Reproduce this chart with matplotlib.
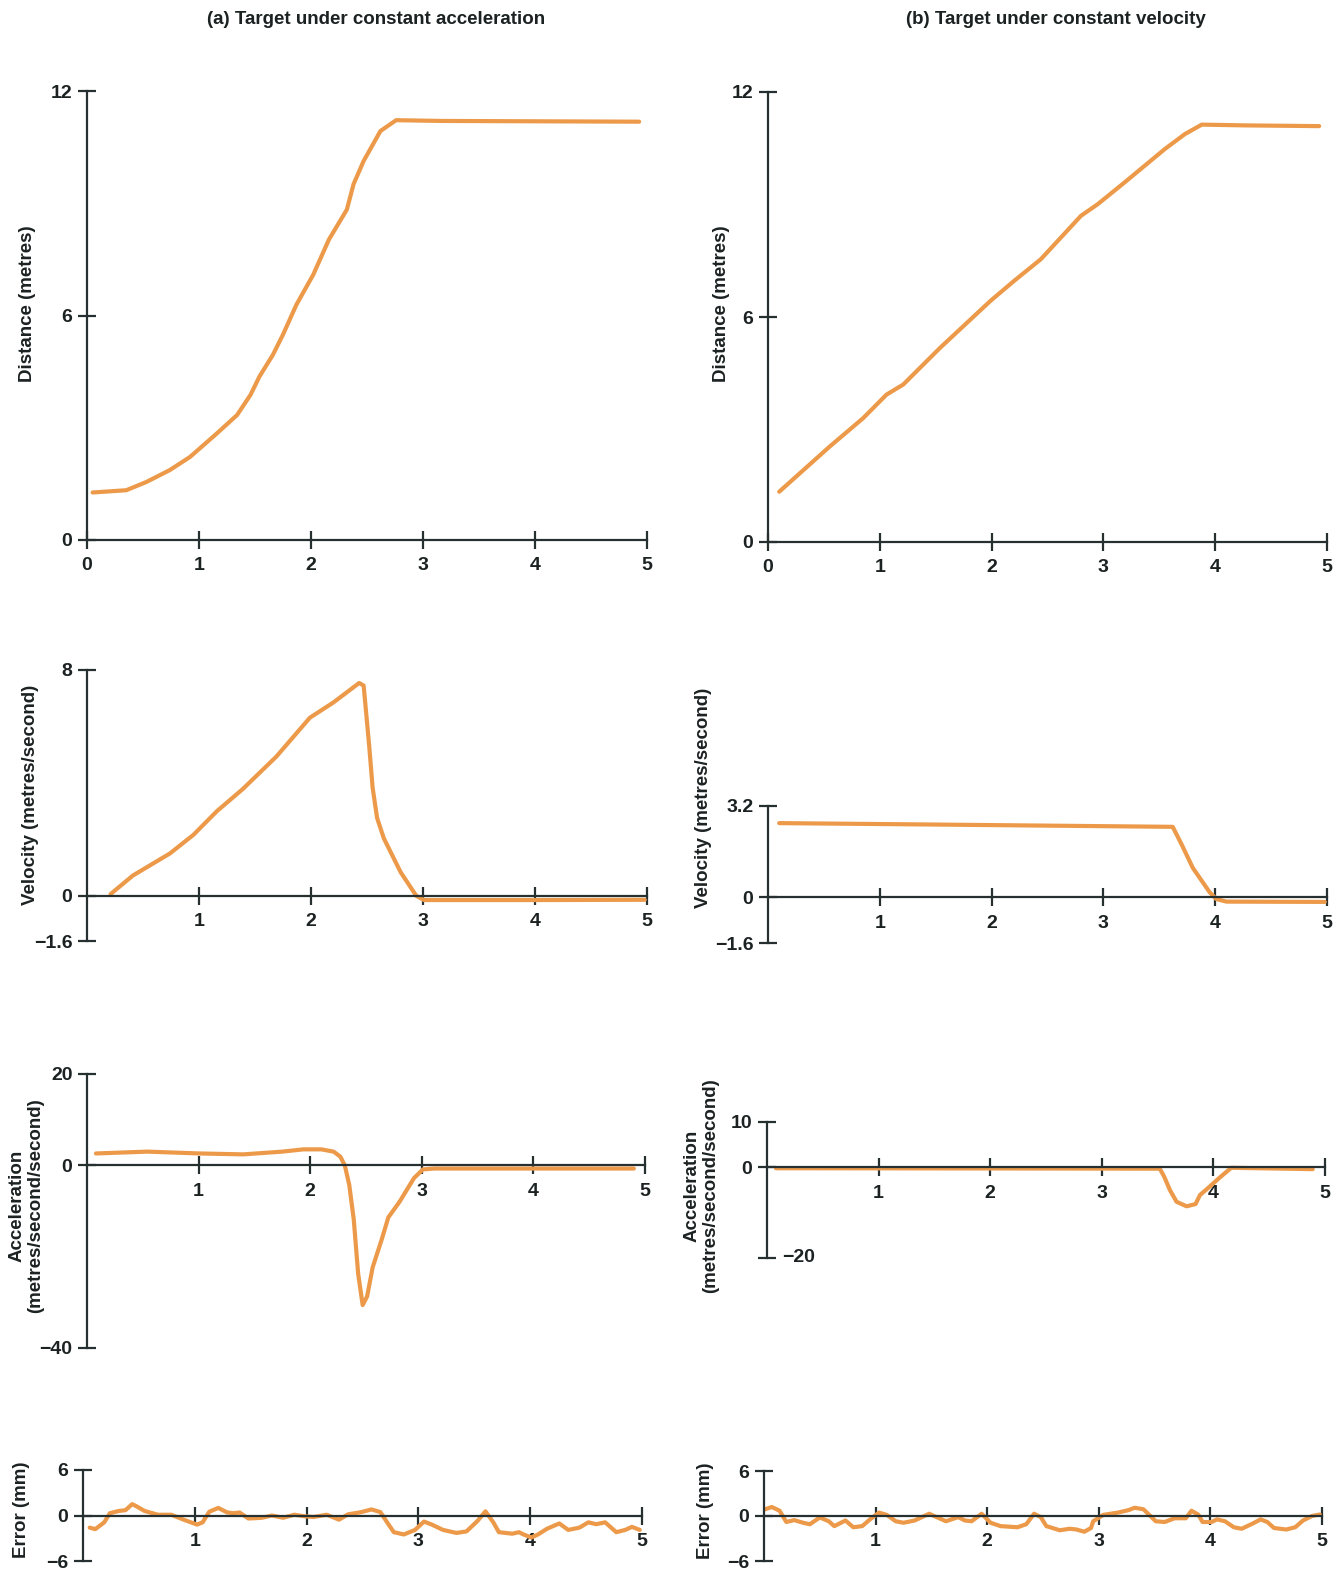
import matplotlib
matplotlib.use("Agg")
import matplotlib.pyplot as plt
import numpy as np

W, H = 1339, 1574
ORANGE = '#EC9A4A'
INK = '#263030'
FONT = ['Liberation Sans', 'DejaVu Sans']
TITLE_FONT = ['Liberation Sans', 'DejaVu Sans']

# ---- (a) target under constant acceleration ----
dist_a_t = [0.05, 0.35, 0.53, 0.74, 0.92, 1.16, 1.34, 1.46, 1.54, 1.66, 1.75, 1.87,
            2.02, 2.16, 2.32, 2.38, 2.47, 2.62, 2.76, 3.16, 4.93]
dist_a_v = [1.27, 1.33, 1.55, 1.87, 2.22, 2.85, 3.34, 3.88, 4.37, 4.95, 5.49, 6.29,
            7.09, 8.03, 8.83, 9.51, 10.13, 10.93, 11.22, 11.20, 11.18]

vel_a_t = [0.21, 0.41, 0.74, 0.95, 1.16, 1.39, 1.69, 1.99, 2.20, 2.43, 2.47, 2.52,
           2.55, 2.59, 2.65, 2.80, 2.94, 3.01, 4.0, 4.98]
vel_a_v = [0.06, 0.72, 1.50, 2.16, 3.00, 3.78, 4.93, 6.31, 6.85, 7.54, 7.45, 5.29,
           3.84, 2.76, 2.04, 0.84, 0.0, -0.15, -0.15, -0.14]

acc_a_t = [0.08, 0.54, 1.01, 1.40, 1.75, 1.94, 2.10, 2.21, 2.27, 2.31, 2.35, 2.39,
           2.43, 2.47, 2.51, 2.56, 2.64, 2.70, 2.80, 2.93, 3.01, 3.11, 4.90]
acc_a_v = [2.6, 3.0, 2.6, 2.4, 3.0, 3.5, 3.5, 3.0, 1.9, 0.0, -4.3, -11.8,
           -23.8, -30.6, -28.7, -22.3, -16.3, -11.4, -8.0, -2.8, -0.9, -0.7, -0.7]

err_a_t = [0.06, 0.11, 0.19, 0.24, 0.32, 0.38, 0.44, 0.48, 0.55, 0.67, 0.79, 0.90,
           1.02, 1.07, 1.13, 1.21, 1.29, 1.35, 1.40, 1.48, 1.60, 1.69, 1.79, 1.89,
           1.98, 2.06, 2.18, 2.29, 2.37, 2.49, 2.58, 2.66, 2.72, 2.78, 2.87, 2.97,
           3.05, 3.12, 3.22, 3.34, 3.43, 3.53, 3.60, 3.67, 3.72, 3.84, 3.90, 3.94,
           4.01, 4.07, 4.15, 4.26, 4.34, 4.44, 4.52, 4.59, 4.67, 4.77, 4.85, 4.91, 4.98]
err_a_v = [-1.6, -1.8, -0.9, 0.3, 0.6, 0.7, 1.5, 1.2, 0.6, 0.1, 0.1, -0.55,
           -1.2, -0.9, 0.5, 1.0, 0.4, 0.3, 0.4, -0.4, -0.3, 0.0, -0.3, 0.1,
           -0.1, -0.2, 0.1, -0.55, 0.15, 0.45, 0.8, 0.45, -0.9, -2.2, -2.5, -1.9,
           -0.8, -1.2, -1.9, -2.3, -2.1, -0.7, 0.55, -0.9, -2.2, -2.4, -2.2, -2.5,
           -2.9, -2.5, -1.75, -1.05, -1.9, -1.6, -0.9, -1.15, -0.9, -2.2, -1.9, -1.5, -1.9]

# ---- (b) target under constant velocity ----
dist_b_t = [0.10, 0.40, 0.55, 0.85, 1.06, 1.21, 1.54, 1.99, 2.20, 2.44, 2.80, 2.95,
            3.19, 3.55, 3.73, 3.88, 4.26, 4.93]
dist_b_v = [1.34, 2.14, 2.54, 3.30, 3.93, 4.20, 5.18, 6.43, 6.96, 7.54, 8.70, 9.01,
            9.59, 10.48, 10.88, 11.13, 11.11, 11.09]

vel_b_t = [0.10, 1.5, 3.62, 3.70, 3.80, 3.95, 4.01, 4.10, 4.98]
vel_b_v = [2.60, 2.55, 2.47, 1.85, 1.03, 0.18, -0.06, -0.15, -0.16]

acc_b_t = [0.08, 2.0, 3.52, 3.56, 3.61, 3.67, 3.76, 3.84, 3.88, 3.96, 4.05, 4.16, 4.89]
acc_b_v = [-0.2, -0.25, -0.3, -2.1, -5.0, -7.6, -8.6, -8.1, -6.1, -4.4, -2.4, -0.1, -0.4]

err_b_t = [0.01, 0.07, 0.14, 0.20, 0.27, 0.35, 0.41, 0.50, 0.58, 0.63, 0.73, 0.80,
           0.88, 0.95, 1.03, 1.10, 1.18, 1.25, 1.35, 1.48, 1.57, 1.63, 1.74, 1.80,
           1.86, 1.95, 2.03, 2.12, 2.27, 2.35, 2.42, 2.48, 2.53, 2.65, 2.74, 2.80,
           2.87, 2.93, 2.95, 3.04, 3.17, 3.27, 3.32, 3.40, 3.51, 3.59, 3.68, 3.78,
           3.83, 3.89, 3.93, 4.01, 4.06, 4.13, 4.21, 4.28, 4.38, 4.45, 4.51, 4.57,
           4.68, 4.76, 4.83, 4.91, 4.98]
err_b_v = [0.9, 1.2, 0.7, -0.8, -0.55, -0.9, -1.1, -0.2, -0.7, -1.35, -0.6, -1.5,
           -1.35, -0.45, 0.45, 0.15, -0.7, -0.9, -0.6, 0.3, -0.3, -0.7, -0.15, -0.6,
           -0.7, 0.3, -0.9, -1.35, -1.5, -1.1, 0.3, -0.15, -1.35, -1.9, -1.7, -1.8,
           -2.1, -1.6, -0.7, 0.15, 0.45, 0.8, 1.1, 0.9, -0.7, -0.8, -0.3, -0.3,
           0.7, 0.2, -0.8, -0.8, -0.45, -0.7, -1.5, -1.7, -1.0, -0.45, -0.8, -1.6,
           -1.8, -1.5, -0.6, 0.0, 0.2]

titles = ['(a) Target under constant acceleration', '(b) Target under constant velocity']


def make_axes(fig, x0, x5, ytop, ybot):
    return fig.add_axes([x0 / W, 1 - ybot / H, (x5 - x0) / W, (ybot - ytop) / H])


def style(ax, ylim, yticks, ylabels, xzero=False):
    ax.set_xlim(0, 5)
    ax.set_ylim(*ylim)
    for s in ['top', 'right']:
        ax.spines[s].set_visible(False)
    ax.spines['bottom'].set_position(('data', 0))
    for s in ['left', 'bottom']:
        ax.spines[s].set_color(INK)
        ax.spines[s].set_linewidth(1.6)
    xt = [0, 1, 2, 3, 4, 5] if xzero else [1, 2, 3, 4, 5]
    ax.set_xticks(xt)
    ax.set_xticklabels([str(v) for v in xt])
    ax.set_yticks(yticks)
    ax.set_yticklabels(ylabels)
    ax.tick_params(direction='inout', length=13, width=1.6, color=INK,
                   labelsize=14, labelcolor='#1c2222')
    ax.tick_params(axis='x', pad=6)
    ax.tick_params(axis='y', pad=4)
    for lab in ax.get_xticklabels() + ax.get_yticklabels():
        lab.set_fontweight('bold')
        lab.set_family(FONT)
    ax.patch.set_alpha(0)


def draw(ax, t, v):
    ax.plot(t, v, color=ORANGE, lw=3, solid_capstyle='round', solid_joinstyle='round')


fig = plt.figure(figsize=(W / 100, H / 100), dpi=100)

# row 1 - distance
ax = make_axes(fig, 87, 647, 91, 540)
draw(ax, dist_a_t, dist_a_v)
style(ax, (0, 12), [0, 6, 12], ['0', '6', '12'], xzero=True)

ax = make_axes(fig, 768, 1327, 92, 542)
draw(ax, dist_b_t, dist_b_v)
style(ax, (0, 12), [0, 6, 12], ['0', '6', '12'], xzero=True)

# row 2 - velocity
ax = make_axes(fig, 87, 647, 670, 941)
draw(ax, vel_a_t, vel_a_v)
style(ax, (-1.6, 8), [-1.6, 0, 8], ['\u22121.6', '0', '8'])

ax = make_axes(fig, 768, 1327, 806, 943)
draw(ax, vel_b_t, vel_b_v)
style(ax, (-1.6, 3.2), [-1.6, 0, 3.2], ['\u22121.6', '0', '3.2'])

# row 3 - acceleration
ax = make_axes(fig, 87, 645, 1074, 1348)
draw(ax, acc_a_t, acc_a_v)
style(ax, (-40, 20), [-40, 0, 20], ['\u221240', '0', '20'])

ax = make_axes(fig, 767, 1325, 1122, 1258)
draw(ax, acc_b_t, acc_b_v)
style(ax, (-20, 10), [-20, 0, 10], ['', '0', '10'])
ax.text(0.14, -20, '\u221220', ha='left', va='center', fontsize=14,
        fontweight='bold', family=FONT, color='#1c2222')

# row 4 - error
ax = make_axes(fig, 83, 642, 1470, 1561)
draw(ax, err_a_t, err_a_v)
style(ax, (-6, 6), [-6, 0, 6], ['\u22126', '0', '6'])

ax = make_axes(fig, 764, 1322, 1471, 1561)
draw(ax, err_b_t, err_b_v)
style(ax, (-6, 6), [-6, 0, 6], ['\u22126', '0', '6'])

# column titles
fig.text(376 / W, 1 - 19 / H, titles[0], ha='center', va='center',
         fontsize=13.5, fontweight='bold', family=TITLE_FONT, color='#1c2222')
fig.text(1056 / W, 1 - 20 / H, titles[1], ha='center', va='center',
         fontsize=13.5, fontweight='bold', family=TITLE_FONT, color='#1c2222')

# y axis labels
ylabs = [
    (28, 304, 'Distance (metres)'),
    (721, 304, 'Distance (metres)'),
    (31, 795, 'Velocity (metres/second)'),
    (704, 798, 'Velocity (metres/second)'),
    (26, 1206, 'Acceleration\n(metres/second/second)'),
    (701, 1186, 'Acceleration\n(metres/second/second)'),
    (22, 1510, 'Error (mm)'),
    (706, 1511, 'Error (mm)'),
]
for x, y, s in ylabs:
    fig.text(x / W, 1 - y / H, s, rotation=90, ha='center', va='center',
             fontsize=13.5, fontweight='bold', family=TITLE_FONT,
             color='#1c2222', linespacing=1.1)

fig.savefig('out.png', dpi=100, facecolor='white')
